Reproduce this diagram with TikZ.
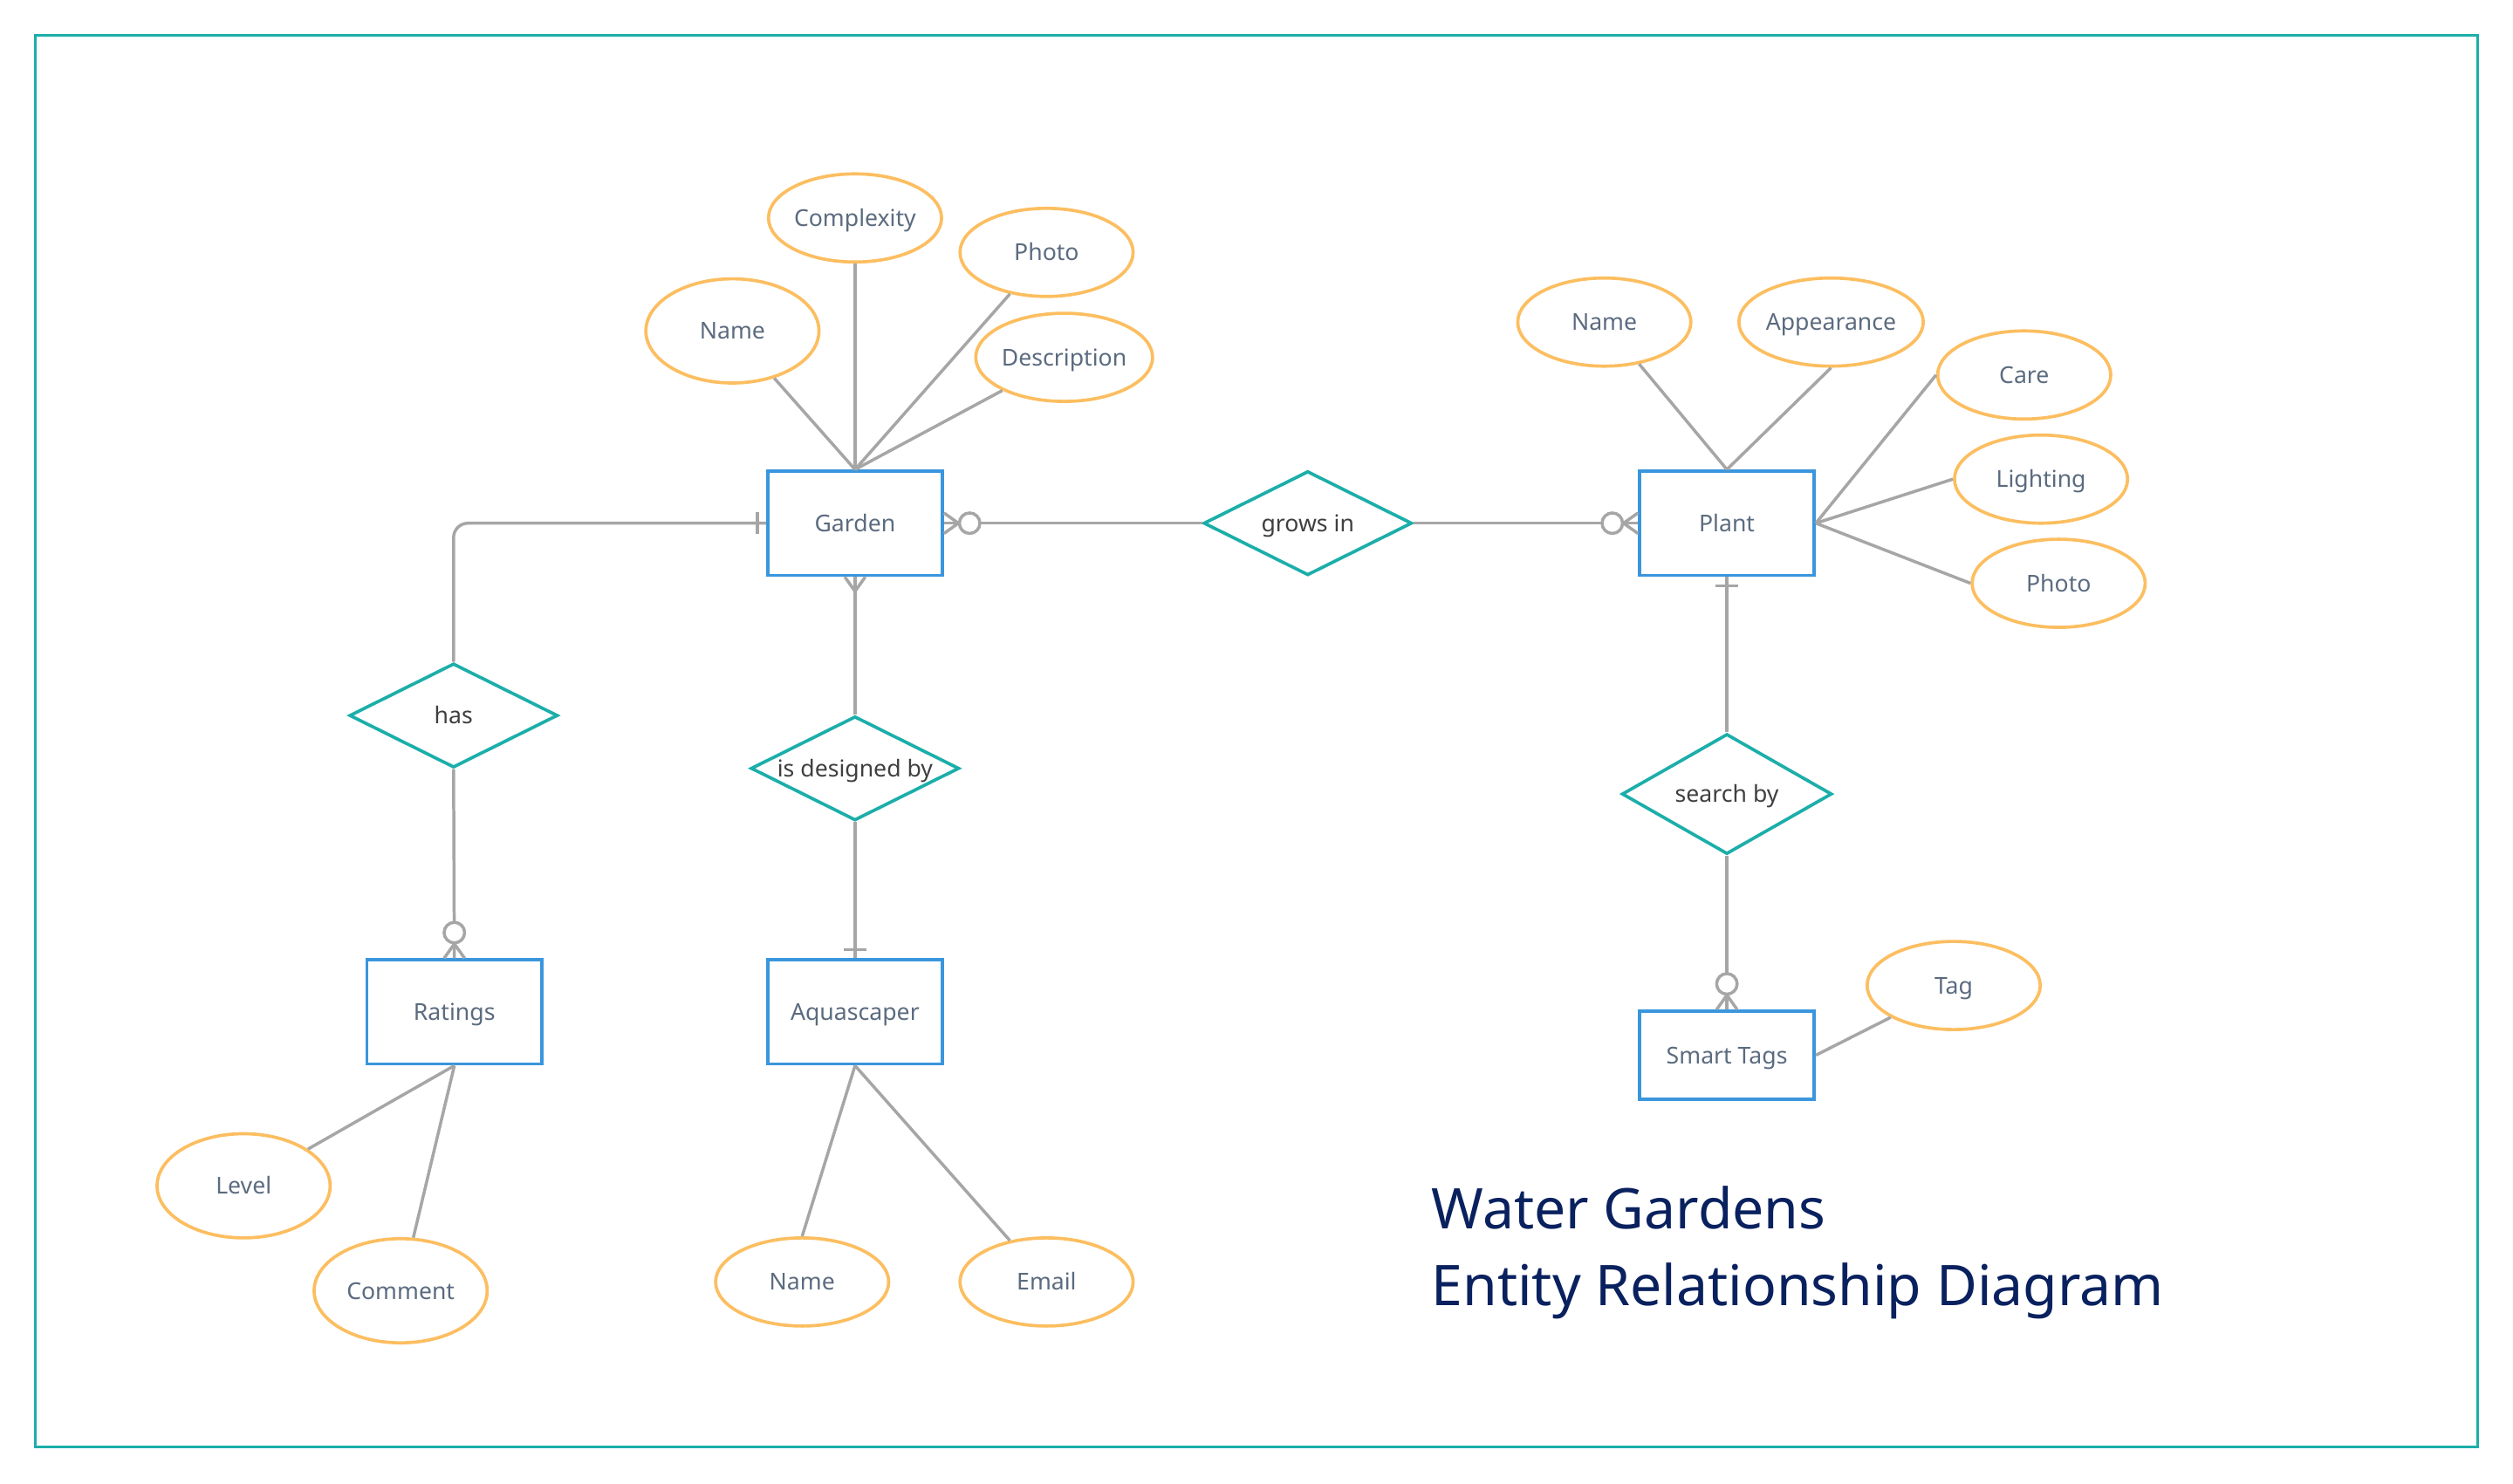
\documentclass[tikz,border=0pt]{standalone}
\usepackage{fontspec}
\setmainfont{Noto Sans}
\usetikzlibrary{shapes.geometric}
\definecolor{boxblue}{RGB}{58,150,221}
\definecolor{teal}{RGB}{27,174,170}
\definecolor{attor}{RGB}{252,190,96}
\definecolor{lgrey}{RGB}{166,166,166}
\definecolor{txtgrey}{RGB}{91,107,127}
\definecolor{reltxt}{RGB}{63,63,63}
\definecolor{navy}{RGB}{10,33,95}
\tikzset{
  conn/.style={draw=lgrey, line width=1.9pt},
  basetxt/.style={inner sep=0pt, text height=10.4pt, text depth=0pt, font=\fontsize{14.5}{17}\selectfont},
  entity/.style={basetxt, draw=boxblue, line width=2pt, fill=white, rectangle, minimum width=109pt, minimum height=65pt, text=txtgrey},
  attr/.style={basetxt, draw=attor, line width=2pt, fill=white, ellipse, minimum width=108pt, minimum height=55pt, text=txtgrey},
  rel/.style={basetxt, draw=teal, line width=2pt, fill=white, diamond, aspect=2, minimum width=130pt, minimum height=65pt, text=reltxt},
  titletxt/.style={text=navy, font=\fontsize{35}{42}\selectfont, inner sep=0pt, anchor=base west}
}
\newcommand{\zeromany}[2]{%
  \begin{scope}[shift={(#1)}, rotate=#2]
    \draw[conn] (9,0) -- (0,6.4) (9,0) -- (0,-6.4);
    \draw[conn, fill=white] (16,0) circle[radius=6.4];
  \end{scope}}
\newcommand{\onebar}[2]{%
  \begin{scope}[shift={(#1)}, rotate=#2]
    \draw[conn] (5.5,-6.9) -- (5.5,6.9);
  \end{scope}}
\begin{document}
\begin{tikzpicture}[x=1pt, y=-1pt]
\useasboundingbox (0,0) rectangle (1568,926);
\fill[white] (0,0) rectangle (1568,926);
\draw[teal, line width=2pt] (22,22) rectangle (1546,903);

% entities
\node[entity] (garden) at (533.5,326.5) {Garden};
\node[entity] (plant) at (1077.5,326.5) {Plant};
\node[entity] (ratings) at (283.5,631.5) {Ratings};
\node[entity] (aqua) at (533.5,631.5) {Aquascaper};
\node[entity, minimum height=55pt] (smart) at (1077.5,658.5) {Smart Tags};

% relationships
\node[rel] (grows) at (816,326.5) {grows in};
\node[rel] (has) at (283,446.5) {has};
\node[rel] (idb) at (533.5,479.5) {is designed by};
\node[rel, minimum width=131pt, minimum height=75pt] (search) at (1077.5,495.5) {search by};

% attributes
\node[attr, minimum height=65pt] (gname) at (457,206.5) {Name};
\node[attr] (gcomp) at (533.5,136) {Complexity};
\node[attr] (gphoto) at (653,157.5) {Photo};
\node[attr] (gdesc) at (664,223) {Description};
\node[attr] (pname) at (1001,201) {Name};
\node[attr] (papp) at (1142.5,201) {Appearance};
\node[attr] (pcare) at (1263,234) {Care};
\node[attr] (plight) at (1273.5,299) {Lighting};
\node[attr] (pphoto) at (1284.5,364) {Photo};
\node[attr, minimum height=65pt] (level) at (152,740) {Level};
\node[attr, minimum height=65pt] (comment) at (250,805.5) {Comment};
\node[attr] (aname) at (500.5,800) {Name};
\node[attr] (email) at (653,800) {Email};
\node[attr] (tag) at (1219,615) {Tag};

% attribute connectors
\draw[conn] (garden.north) -- (gname);
\draw[conn] (garden.north) -- (gcomp.south);
\draw[conn] (garden.north) -- (gphoto);
\draw[conn] (garden.north) -- (gdesc);
\draw[conn] (plant.north) -- (pname);
\draw[conn] (plant.north) -- (papp.south);
\draw[conn] (plant.east) -- (pcare.west);
\draw[conn] (plant.east) -- (plight.west);
\draw[conn] (plant.east) -- (pphoto.west);
\draw[conn] (ratings.south) -- (level);
\draw[conn] (ratings.south) -- (comment);
\draw[conn] (aqua.south) -- (aname.north);
\draw[conn] (aqua.south) -- (email);
\draw[conn] (smart.east) -- (tag);

% relationship connectors
\draw[conn, rounded corners=9pt] (has.north) |- (garden.west);
\draw[conn] (has.south) -- (ratings.north);
\draw[conn] (garden.south) -- (idb.north);
\draw[conn] (idb.south) -- (aqua.north);
\draw[conn] (garden.east) -- (grows.west);
\draw[conn] (grows.east) -- (plant.west);
\draw[conn] (plant.south) -- (search.north);
\draw[conn] (search.south) -- (smart.north);

% cardinality marks
\onebar{garden.west}{180}
\zeromany{garden.east}{0}
\begin{scope}[shift={(garden.south)}, rotate=-90]
  \draw[conn] (9,0) -- (0,6.4) (9,0) -- (0,-6.4);
\end{scope}
\onebar{aqua.north}{90}
\zeromany{ratings.north}{90}
\zeromany{plant.west}{180}
\onebar{plant.south}{-90}
\zeromany{smart.north}{90}

% title
\node[titletxt] (title1) at (893,767) {Water Gardens};
\node[titletxt] (title2) at (893,815) {Entity Relationship Diagram};
\end{tikzpicture}
\end{document}
